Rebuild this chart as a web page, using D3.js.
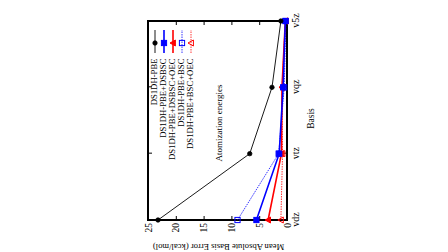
<!DOCTYPE html>
<html>
<head>
<meta charset="utf-8">
<script src="https://cdn.jsdelivr.net/npm/d3@7"></script>
<style>
  body { margin: 0; background: #fff; }
  text { font-family: "Liberation Serif", "DejaVu Serif", serif; }
</style>
</head>
<body>
<svg id="chart" width="448" height="252"></svg>
<script>
// basis sets along the x axis
const basis = ["vdz", "vtz", "vqz", "v5z"];
const yTicks = [0, 5, 10, 15, 20, 25];

// mean absolute basis errors (kcal/mol)
const pbe = [23.2, 6.7, 2.7, 1.1];
const pbeDsbsc = [5.5, 1.4, 0.7, 0.3];
const pbeDsbscOec = [3.4, 1.0, 0.9, 0.3];
const pbeBsc = [8.9, 1.5, 0.5, 0.2];
const pbeBscOec = [1.1, 0.8, 0.9, 0.3];

const seriesNames = [
    "DS1DH-PBE",
    "DS1DH-PBE+DSBSC",
    "DS1DH-PBE+DSBSC+OEC",
    "DS1DH-PBE+BSC",
    "DS1DH-PBE+BSC+OEC"
];

const series = [
    { name: seriesNames[0], values: pbe, color: "#000", width: 0.9, dash: null, marker: "circle", fill: true },
    { name: seriesNames[1], values: pbeDsbsc, color: "#0000ff", width: 1.6, dash: null, marker: "square", fill: true },
    { name: seriesNames[2], values: pbeDsbscOec, color: "#ff0000", width: 1.6, dash: null, marker: "triangle", fill: true },
    { name: seriesNames[3], values: pbeBsc, color: "#0000ff", width: 0.8, dash: "1.5,1", marker: "square", fill: false },
    { name: seriesNames[4], values: pbeBscOec, color: "#ff0000", width: 0.8, dash: "1.5,1", marker: "triangle", fill: false }
];

const svg = d3.select("#chart");

// the whole gnuplot page is turned a quarter turn counter-clockwise
const g = svg.append("g")
    .attr("transform", "translate(0,252) rotate(-90)");

const pLeft = 32, pRight = 231, pTop = 148, pBottom = 287;

const x = d3.scalePoint()
    .domain(basis)
    .range([pLeft, pRight]);

const y = d3.scaleLinear()
    .domain([0, 25])
    .range([pBottom, pTop]);

// axes (ticks point inwards, mirrored on the opposite side)
g.append("g")
    .attr("transform", `translate(${pLeft},0)`)
    .call(d3.axisLeft(y).tickValues(yTicks).tickSize(-4).tickPadding(3))
    .call(a => a.select(".domain").remove())
    .call(a => a.selectAll("text").attr("font-size", 9.5).attr("fill", "#000"));

g.append("g")
    .attr("transform", `translate(${pRight},0)`)
    .call(d3.axisRight(y).tickValues(yTicks).tickSize(-4).tickFormat(""))
    .call(a => a.select(".domain").remove());

g.append("g")
    .attr("transform", `translate(0,${pBottom})`)
    .call(d3.axisBottom(x).tickSize(-4).tickPadding(5))
    .call(a => a.select(".domain").remove())
    .call(a => a.selectAll("text").attr("font-size", 10).attr("fill", "#000"));

g.append("g")
    .attr("transform", `translate(0,${pTop})`)
    .call(d3.axisTop(x).tickSize(-4).tickFormat(""))
    .call(a => a.select(".domain").remove());

g.append("rect")
    .attr("x", pLeft)
    .attr("y", pTop)
    .attr("width", pRight - pLeft)
    .attr("height", pBottom - pTop)
    .attr("fill", "none")
    .attr("stroke", "#000")
    .attr("stroke-width", 2);

// axis titles
g.append("text")
    .attr("transform", `translate(6,${(pTop + pBottom) / 2 + 1}) rotate(-90)`)
    .attr("text-anchor", "middle")
    .attr("dominant-baseline", "middle")
    .attr("font-size", 8.6)
    .text("Mean Absolute Basis Error (kcal/mol)");

g.append("text")
    .attr("x", (pLeft + pRight) / 2 + 2)
    .attr("y", 312)
    .attr("text-anchor", "middle")
    .attr("dominant-baseline", "middle")
    .attr("font-size", 9.5)
    .text("Basis");

g.append("text")
    .attr("x", 129)
    .attr("y", 220)
    .attr("text-anchor", "middle")
    .attr("dominant-baseline", "middle")
    .attr("font-size", 9)
    .text("Atomization energies");

function drawMarker(sel, s, cx, cy) {
    const fill = s.fill ? s.color : "none";
    if (s.marker === "circle") {
        sel.append("circle").attr("cx", cx).attr("cy", cy).attr("r", 2.2)
            .attr("fill", fill).attr("stroke", s.color).attr("stroke-width", 0.8);
    } else if (s.marker === "square") {
        sel.append("rect").attr("x", cx - 2.6).attr("y", cy - 2.6).attr("width", 5.2).attr("height", 5.2)
            .attr("fill", fill).attr("stroke", s.color).attr("stroke-width", 1);
    } else {
        const r = 3;
        sel.append("path")
            .attr("d", `M${cx},${cy - r}L${cx + r},${cy + r * 0.8}L${cx - r},${cy + r * 0.8}Z`)
            .attr("fill", fill).attr("stroke", s.color).attr("stroke-width", 1);
    }
}

const line = d3.line()
    .x((d, i) => x(basis[i]))
    .y(d => y(d));

series.slice().reverse().forEach(s => {
    g.append("path")
        .datum(s.values)
        .attr("d", line)
        .attr("fill", "none")
        .attr("stroke", s.color)
        .attr("stroke-width", s.width)
        .attr("stroke-dasharray", s.dash);
    const m = g.append("g");
    s.values.forEach((v, i) => drawMarker(m, s, x(basis[i]), y(v)));
});

// legend (top right in the unrotated page)
const legend = g.append("g");
series.forEach((s, i) => {
    const ly = 155 + i * 9;
    legend.append("text")
        .attr("x", 193.5)
        .attr("y", ly)
        .attr("text-anchor", "end")
        .attr("dominant-baseline", "middle")
        .attr("font-size", 8.7)
        .text(s.name);
    legend.append("line")
        .attr("x1", 199).attr("x2", 222)
        .attr("y1", ly).attr("y2", ly)
        .attr("stroke", s.color)
        .attr("stroke-width", s.width)
        .attr("stroke-dasharray", s.dash);
    drawMarker(legend, s, 209, ly);
});
</script>
</body>
</html>
